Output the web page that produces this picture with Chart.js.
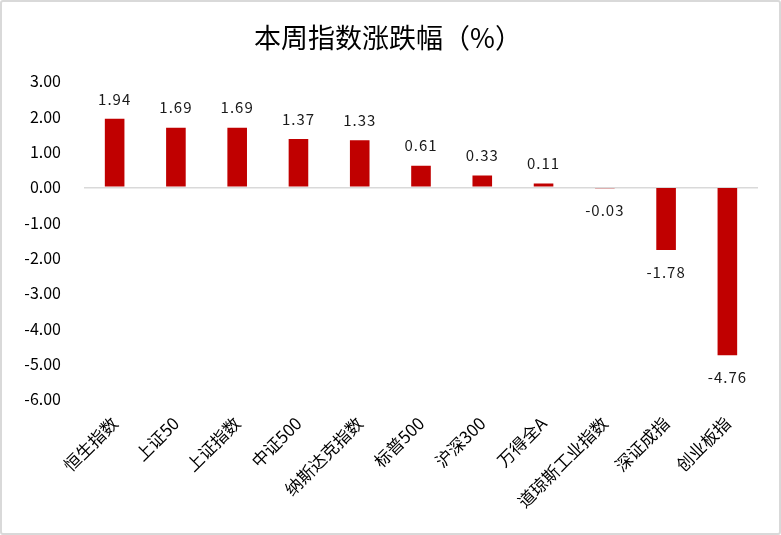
<!DOCTYPE html>
<html>
<head>
<meta charset="utf-8">
<script src="https://cdn.jsdelivr.net/npm/chart.js@4"></script>
<style>
  html, body { margin: 0; padding: 0; background: #fff; }
  #box { width: 781px; height: 535px; box-sizing: border-box; border: 2px solid #d9d9d9; border-radius: 3px; }
  #chartZhangDie { display: block; }
</style>
</head>
<body>
<div id="box"><canvas id="chartZhangDie" width="777" height="531"></canvas></div>
<script>
const FONT = "'Noto Sans CJK SC', 'Noto Sans', sans-serif";

// 指数名称
const indices = ["恒生指数", "上证50", "上证指数", "中证500", "纳斯达克指数", "标普500", "沪深300", "万得全A", "道琼斯工业指数", "深证成指", "创业板指"];
// 本周涨跌幅 (%)
const changes = [1.94, 1.69, 1.69, 1.37, 1.33, 0.61, 0.33, 0.11, -0.03, -1.78, -4.76];
// 纵轴刻度
const yMin = -6, yMax = 3, yStep = 1;

// 数据标签
const valueLabels = {
  id: "valueLabels",
  afterDatasetsDraw(chart) {
    const ctx = chart.ctx;
    const meta = chart.getDatasetMeta(0);
    ctx.save();
    ctx.font = "15px " + FONT;
    ctx.letterSpacing = "1px";
    ctx.fillStyle = "#1a1a1a";
    ctx.textAlign = "center";
    ctx.textBaseline = "middle";
    meta.data.forEach((bar, i) => {
      const v = changes[i];
      const y = v >= 0 ? bar.y - 20 : bar.y + 22;
      ctx.fillText(v.toFixed(2), bar.x, y);
    });
    ctx.restore();
  }
};

new Chart(document.getElementById("chartZhangDie"), {
  type: "bar",
  data: {
    labels: indices,
    datasets: [{
      data: changes,
      backgroundColor: "#C00000",
      barPercentage: 0.32,
      categoryPercentage: 1.0
    }]
  },
  options: {
    responsive: false,
    animation: false,
    layout: { padding: { left: 16, right: 21, top: 0, bottom: 0 } },
    plugins: {
      legend: { display: false },
      tooltip: { enabled: false },
      title: {
        display: true,
        text: "本周指数涨跌幅（%）",
        color: "#000",
        font: { family: FONT, size: 27, weight: "normal" },
        padding: { top: 20, bottom: 27 }
      }
    },
    scales: {
      x: {
        grid: { display: false },
        border: { display: false },
        afterFit: s => { s.height = 134; },
        ticks: {
          color: "#000",
          font: { family: FONT, size: 17 },
          maxRotation: 45,
          minRotation: 45,
          padding: 6
        }
      },
      y: {
        min: yMin,
        max: yMax,
        afterFit: s => { s.width = 66; },
        border: { display: false },
        grid: {
          drawTicks: false,
          color: c => c.tick.value === 0 ? "#d9d9d9" : "rgba(0,0,0,0)",
          lineWidth: 1.5
        },
        ticks: {
          stepSize: yStep,
          color: "#000",
          padding: 23,
          font: { family: FONT, size: 16 },
          callback: v => v.toFixed(2)
        }
      }
    }
  },
  plugins: [valueLabels]
});
</script>
</body>
</html>
